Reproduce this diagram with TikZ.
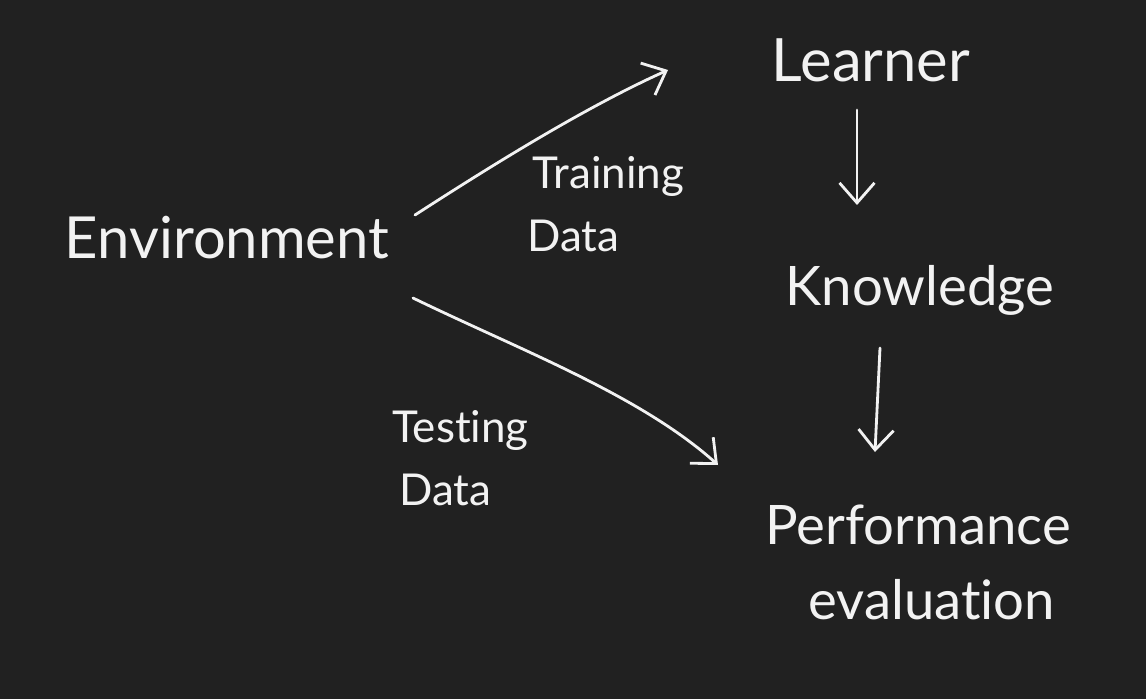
\documentclass[tikz,border=0pt]{standalone}
\usepackage{fontspec}
\setmainfont[Ligatures=NoCommon]{Lato}
\usetikzlibrary{arrows.meta}
\definecolor{bg}{HTML}{212121}
\definecolor{ink}{HTML}{F2F2F2}
\begin{document}
\begin{tikzpicture}[x=0.02cm,y=-0.02cm,
  lbl/.style={text=ink,inner sep=0pt,font=\fontsize{31}{34}\selectfont},
  sub/.style={text=ink,inner sep=0pt,align=left,font=\fontsize{25}{36}\selectfont},
  arr/.style={draw=ink,line width=1.6pt,line cap=round,-{Straight Barb[length=4mm,width=7mm,line width=1.6pt]}}]
\fill[bg] (0,0) rectangle (1146,699);
\useasboundingbox (0,0) rectangle (1146,699);
\node[lbl,font=\fontsize{33}{34}\selectfont] (env) at (227,238) {Environment};
\node[lbl,font=\fontsize{34}{34}\selectfont] (learner) at (871,60) {Learner};
\node[lbl] (know) at (920,290) {Knowledge};
\node[lbl,anchor=west] (perf) at (765,525) {Performance};
\node[lbl,anchor=west] (evalu) at (808,600) {evaluation};
\node[sub,anchor=west] (train) at (527,204) {\hspace*{3pt}Training\\Data};
\node[sub,anchor=west] (test) at (392,458) {Testing\\\hspace*{4pt}Data};
\coordinate (a1s) at (415,215);
\coordinate (a1e) at (668,70);
\coordinate (a2s) at (413,298);
\coordinate (a2e) at (718,465);
\coordinate (a3s) at (857,110);
\coordinate (a3e) at (857,205);
\coordinate (a4s) at (880,348);
\coordinate (a4e) at (875,452);
\draw[arr] (a1s) .. controls (500,160) and (590,105) .. (a1e);
\draw[arr] (a2s) .. controls (520,350) and (640,395) .. (a2e);
\draw[arr] (a3s) -- (a3e);
\draw[arr] (a4s) -- (a4e);
\end{tikzpicture}
\end{document}
